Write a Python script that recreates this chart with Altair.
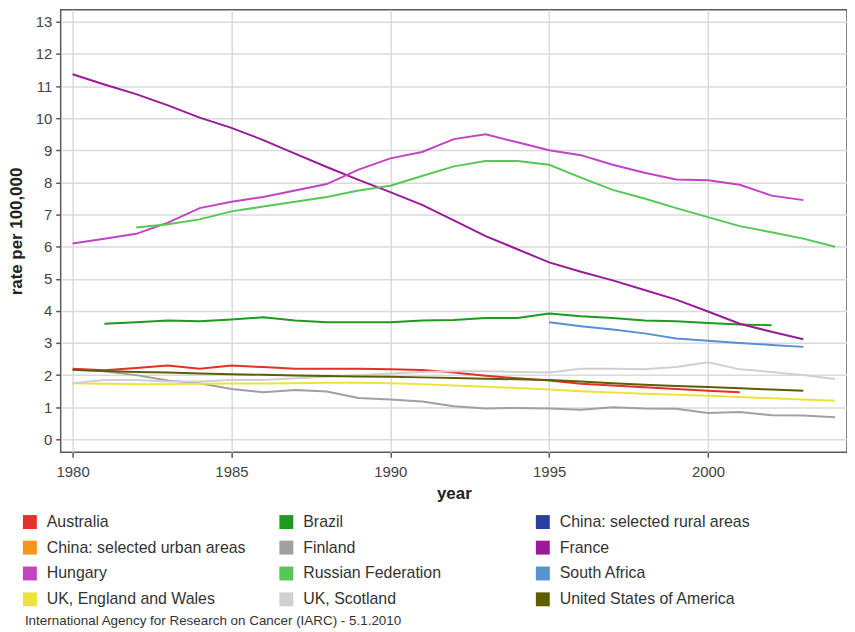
import altair as alt
import pandas as pd

years = list(range(1980, 2005))

series_names = [
    "Australia", "Brazil", "China: selected rural areas",
    "China: selected urban areas", "Finland", "France",
    "Hungary", "Russian Federation", "South Africa",
    "UK, England and Wales", "UK, Scotland", "United States of America",
]
series_colors = [
    "#e2302a", "#1f9a1f", "#2c3fa0",
    "#f5961c", "#a0a0a0", "#9a1a9a",
    "#c244c2", "#55c855", "#5592d2",
    "#ece33a", "#d0d0d0", "#5e5e00",
]

australia = [2.20, 2.15, 2.22, 2.30, 2.20, 2.30, 2.25, 2.20, 2.20, 2.20, 2.18, 2.16, 2.08,
             1.98, 1.90, 1.83, 1.73, 1.68, 1.62, 1.57, 1.51, 1.47, None, None, None]
brazil = [None, 3.60, 3.65, 3.70, 3.68, 3.73, 3.80, 3.70, 3.65, 3.65, 3.65, 3.70, 3.72,
          3.78, 3.78, 3.92, 3.83, 3.78, 3.70, 3.68, 3.62, 3.58, 3.55, None, None]
china_rural = [None] * 25
china_urban = [None] * 25
finland = [2.17, 2.12, 2.00, 1.83, 1.75, 1.57, 1.47, 1.54, 1.49, 1.29, 1.24, 1.18, 1.03,
           0.96, 0.98, 0.96, 0.92, 1.00, 0.96, 0.95, 0.82, 0.85, 0.75, 0.74, 0.69]
france = [11.37, 11.05, 10.75, 10.40, 10.02, 9.70, 9.32, 8.90, 8.48, 8.08, 7.70, 7.30, 6.82,
          6.33, 5.92, 5.51, 5.22, 4.95, 4.65, 4.35, 3.98, 3.60, 3.35, 3.12, None]
hungary = [6.10, 6.25, 6.40, 6.75, 7.20, 7.40, 7.55, 7.75, 7.95, 8.40, 8.75, 8.95, 9.35,
           9.50, 9.25, 9.00, 8.85, 8.55, 8.30, 8.09, 8.07, 7.93, 7.59, 7.45, None]
russia = [None, None, 6.60, 6.70, 6.85, 7.10, 7.25, 7.40, 7.55, 7.75, 7.90, 8.20, 8.50,
          8.67, 8.67, 8.55, 8.15, 7.77, 7.50, 7.20, 6.92, 6.64, 6.45, 6.25, 6.00]
south_africa = [None] * 15 + [3.65, 3.52, 3.42, 3.30, 3.14, 3.07, 3.00, 2.94, 2.88, None]
uk_england_wales = [1.75, 1.73, 1.72, 1.72, 1.73, 1.74, 1.74, 1.75, 1.76, 1.76, 1.75, 1.72, 1.68,
                    1.64, 1.60, 1.55, 1.50, 1.46, 1.42, 1.39, 1.36, 1.32, 1.28, 1.24, 1.20]
uk_scotland = [1.75, 1.85, 1.85, 1.80, 1.80, 1.85, 1.85, 1.90, 1.95, 2.00, 2.05, 2.10, 2.12,
               2.12, 2.10, 2.08, 2.20, 2.20, 2.18, 2.25, 2.40, 2.18, 2.10, 2.00, 1.88]
usa = [2.17, 2.13, 2.10, 2.08, 2.05, 2.03, 2.01, 1.99, 1.97, 1.96, 1.95, 1.93, 1.91,
       1.89, 1.87, 1.85, 1.80, 1.75, 1.70, 1.66, 1.63, 1.59, 1.55, 1.51, None]

series_values = [
    australia, brazil, china_rural, china_urban, finland, france,
    hungary, russia, south_africa, uk_england_wales, uk_scotland, usa,
]

rows = []
for name, vals in zip(series_names, series_values):
    for yr, v in zip(years, vals):
        if v is not None:
            rows.append({"year": yr, "rate": v, "country": name})
df = pd.DataFrame(rows)

FONT = "Liberation Sans"
x_ticks = [1980, 1985, 1990, 1995, 2000]
y_ticks = list(range(0, 14))

chart = alt.Chart(df).mark_line(strokeWidth=2).encode(
    x=alt.X("year:Q",
            scale=alt.Scale(domain=[1979.625, 2004.375], nice=False, zero=False),
            axis=alt.Axis(values=x_ticks, format="d", title="year",
                          labelFontSize=15, titleFontSize=17, titleFontWeight="bold",
                          labelPadding=7, titlePadding=7)),
    y=alt.Y("rate:Q",
            scale=alt.Scale(domain=[-0.40, 13.375], nice=False, zero=False),
            axis=alt.Axis(values=y_ticks, format="d", title="rate per 100,000",
                          labelFontSize=15, titleFontSize=17, titleFontWeight="bold",
                          labelPadding=4, titlePadding=10)),
    color=alt.Color("country:N",
                    scale=alt.Scale(domain=series_names, range=series_colors),
                    sort=series_names,
                    legend=alt.Legend(title=None, orient="none", legendX=-39, legendY=507,
                                      columns=3, direction="horizontal",
                                      symbolType="square", symbolSize=49,
                                      symbolStrokeWidth=7, symbolOpacity=1,
                                      labelFont=FONT, labelFontSize=16, labelColor="#333333",
                                      labelOffset=9, rowPadding=-11, columnPadding=22,
                                      gridAlign="all", labelLimit=400)),
    order=alt.Order("year:Q"),
).properties(
    width=791,
    height=445,
    autosize=alt.AutoSizeParams(type="none"),
    padding={"left": 53, "top": 0, "right": 0, "bottom": 176},
    title=alt.TitleParams(
        "International Agency for Research on Cancer (IARC) - 5.1.2010",
        orient="bottom", anchor="start", frame="group", fontSize=13.5,
        fontWeight="normal", font=FONT, color="#333333", offset=-3, dx=-36,
    ),
).configure_axis(
    labelFont=FONT, titleFont=FONT, labelColor="#444444", titleColor="#222222",
    gridColor="#dadada", gridWidth=1.5, domain=False,
    tickColor="#555555", tickSize=5, tickWidth=1.5,
).configure_view(
    stroke="#5a5a5a", strokeWidth=1.5,
)

chart.save("out.html", embed_options={"renderer": "svg", "actions": False})
